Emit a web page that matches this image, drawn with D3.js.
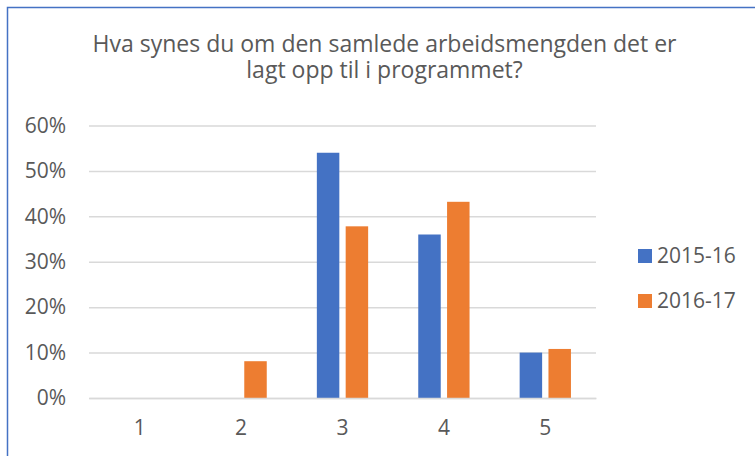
<!DOCTYPE html>
<html>
<head>
<meta charset="utf-8">
<script src="https://cdn.jsdelivr.net/npm/d3@7"></script>
<style>
  html, body { margin: 0; padding: 0; background: #fff; }
  svg { display: block; }
  text { font-family: "Open Sans", "Noto Sans", sans-serif; fill: #595959; }
</style>
</head>
<body>
<svg id="chart" width="755" height="456"></svg>
<script>
const categories = ["1", "2", "3", "4", "5"];
const seriesNames = ["2015-16", "2016-17"];
const values2015 = [0, 0, 0.54, 0.36, 0.10];
const values2016 = [0, 0.081, 0.378, 0.432, 0.108];
const yTicks = [0, 0.1, 0.2, 0.3, 0.4, 0.5, 0.6];
const titleLines = ["Hva synes du om den samlede arbeidsmengden det er", "lagt opp til i programmet?"];
const colors = ["#4472C4", "#ED7D31"];

const seriesValues = [values2015, values2016];
const svg = d3.select("#chart");

// outer frame
svg.append("rect")
  .attr("x", 7.5).attr("y", 7.5)
  .attr("width", 820).attr("height", 520)
  .attr("fill", "#fff")
  .attr("stroke", "#4472C4").attr("stroke-width", 1.5);

// title
const title = svg.append("text")
  .attr("text-anchor", "middle")
  .style("font-size", "23px");
titleLines.forEach((line, i) => {
  title.append("tspan")
    .attr("x", 384.5)
    .attr("y", 52 + i * 26)
    .text(line);
});

const x0 = d3.scaleBand().domain(categories).range([89, 596]).paddingInner(0).paddingOuter(0);
const groupW = 51.3;
const x1 = d3.scaleBand().domain(seriesNames)
  .range([x0.bandwidth() / 2 - groupW / 2, x0.bandwidth() / 2 + groupW / 2])
  .paddingInner(0.22).paddingOuter(0);
const y = d3.scaleLinear().domain([0, 0.6]).range([398, 125.5]);

// gridlines
const yAxis = d3.axisLeft(y)
  .tickValues(yTicks)
  .tickFormat(d3.format(".0%"))
  .tickSize(-(x0.range()[1] - x0.range()[0]))
  .tickPadding(23);
const gy = svg.append("g").attr("transform", `translate(${x0.range()[0]},0)`).call(yAxis);
gy.select(".domain").remove();
gy.selectAll(".tick line").attr("stroke", "#D9D9D9").attr("stroke-width", 1.5);
gy.selectAll(".tick text")
  .style("font-size", "21px")
  .attr("fill", "#595959")
  .attr("font-family", null);

// bars
const groups = svg.append("g").selectAll("g")
  .data(categories)
  .join("g")
  .attr("transform", d => `translate(${x0(d)},0)`);

groups.selectAll("rect")
  .data((d, i) => seriesNames.map((s, j) => ({ s, v: seriesValues[j][i], c: colors[j] })))
  .join("rect")
  .attr("x", d => x1(d.s))
  .attr("width", x1.bandwidth())
  .attr("y", d => y(d.v))
  .attr("height", d => y(0) - y(d.v))
  .attr("fill", d => d.c);

// x axis
const xAxis = d3.axisBottom(x0).tickSize(0).tickPadding(22);
const gx = svg.append("g").attr("transform", `translate(0,${y(0)})`).call(xAxis);
gx.select(".domain").attr("stroke", "#D9D9D9").attr("stroke-width", 1.5);
gx.selectAll(".tick text")
  .style("font-size", "21px")
  .attr("fill", "#595959")
  .attr("font-family", null);

// legend
const legend = svg.append("g");
seriesNames.forEach((s, i) => {
  const ly = 256 + i * 45;
  legend.append("rect")
    .attr("x", 638).attr("y", ly - 7)
    .attr("width", 14).attr("height", 14)
    .attr("fill", colors[i]);
  legend.append("text")
    .attr("x", 657).attr("y", ly)
    .attr("dy", "0.35em")
    .style("font-size", "21px")
    .text(s);
});
</script>
</body>
</html>
